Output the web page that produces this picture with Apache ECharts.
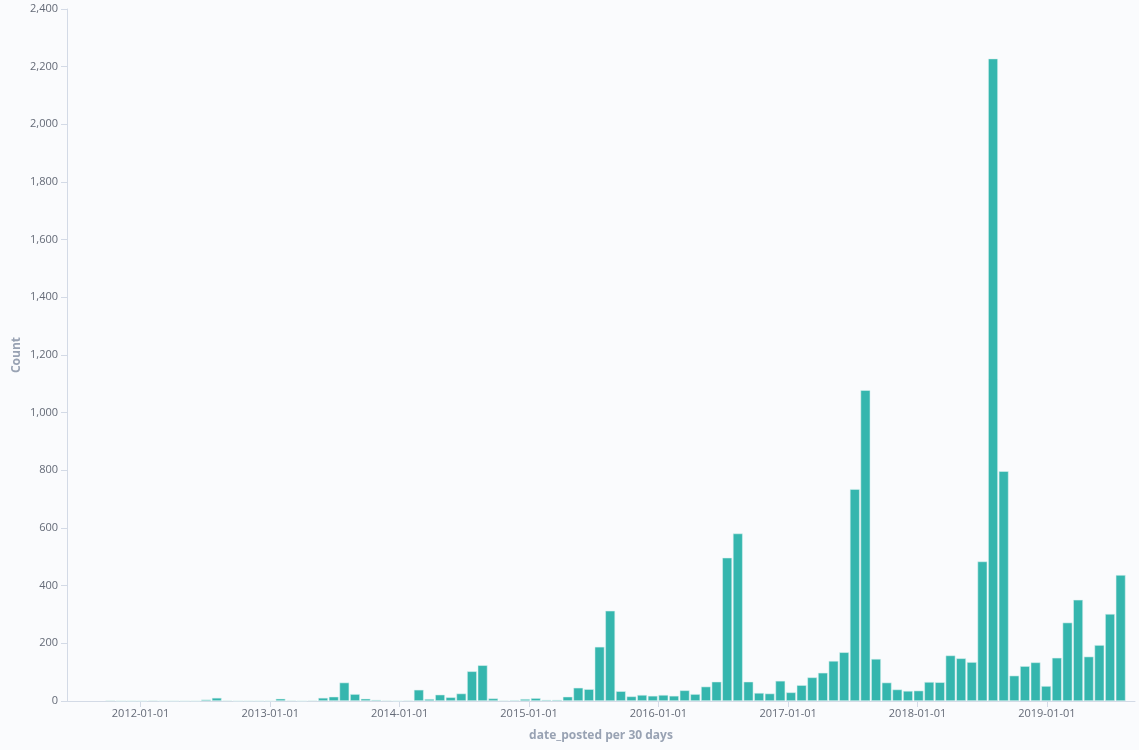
<!DOCTYPE html>
<html>
<head>
<meta charset="utf-8">
<script src="https://cdn.jsdelivr.net/npm/echarts@6/dist/echarts.min.js"></script>
<style>
  html, body { margin: 0; padding: 0; background: #fafbfd; }
  #chart { width: 1139px; height: 750px; }
</style>
</head>
<body>
<div id="chart"></div>
<script>
// 30-day buckets (Kibana date_histogram, buckets aligned on the epoch)
const firstBucket = '2011-09-23';
const bucketDays = 30;

// document count per bucket
const counts = [
  2, 0, 0, 0, 2, 0, 0, 0, 0, 5,
  11, 2, 0, 0, 0, 0, 8, 2, 0, 2,
  11, 15, 64, 24, 8, 4, 2, 0, 2, 39,
  7, 22, 13, 26, 103, 124, 9, 2, 3, 7,
  10, 4, 4, 15, 46, 41, 188, 313, 34, 16,
  21, 18, 21, 18, 37, 24, 50, 67, 497, 581,
  67, 28, 26, 70, 30, 55, 82, 98, 139, 169,
  735, 1078, 146, 64, 40, 35, 36, 66, 65, 158,
  148, 135, 484, 2228, 797, 88, 121, 134, 52, 150,
  272, 351, 154, 194, 302, 437
];

// visible time range of the x axis
const rangeStart = '2011-06-07T14:00:00Z';
const rangeEnd = '2019-09-06T12:00:00Z';

const yTicks = [0, 200, 400, 600, 800, 1000, 1200, 1400, 1600, 1800, 2000, 2200, 2400];

const DAY = 86400000;
const t0 = Date.parse(firstBucket + 'T00:00:00Z');
// bar sits in the middle of its bucket
const seriesData = counts.map((c, i) => [t0 + (i * bucketDays + bucketDays / 2) * DAY, c]);

// echarts widens a time axis by the bar width, so pull min/max in by that much
const plotWidth = 1068;
const barPx = 9.8;
const tMin = Date.parse(rangeStart);
const tMax = Date.parse(rangeEnd);
const shrink = (tMax - tMin) * (barPx / 2) / plotWidth;

function pad(n) { return n < 10 ? '0' + n : '' + n; }

const chart = echarts.init(document.getElementById('chart'));
const option = {
  backgroundColor: '#fafbfd',
  useUTC: true,
  animation: false,
  textStyle: { fontFamily: 'Open Sans' },
  grid: { left: 67, right: 4, top: 9, bottom: 49 },
  xAxis: {
    type: 'time',
    min: tMin + shrink,
    max: tMax - shrink,
    splitNumber: 8,
    minInterval: 365 * DAY,
    name: 'date_posted per 30 days',
    nameLocation: 'middle',
    nameGap: 29,
    nameTextStyle: { color: '#98a2b3', fontSize: 12, fontWeight: 'bold' },
    axisLine: { lineStyle: { color: '#d3dae6' } },
    axisTick: { show: true, length: 6, lineStyle: { color: '#d3dae6' } },
    splitLine: { show: false },
    axisLabel: {
      color: '#646a77',
      fontSize: 11,
      margin: 7,
      showMinLabel: false,
      showMaxLabel: false,
      formatter: function (v) {
        const d = new Date(v);
        return d.getUTCFullYear() + '-' + pad(d.getUTCMonth() + 1) + '-' + pad(d.getUTCDate());
      }
    }
  },
  yAxis: {
    type: 'value',
    min: yTicks[0],
    max: yTicks[yTicks.length - 1],
    interval: yTicks[1] - yTicks[0],
    name: 'Count',
    nameLocation: 'middle',
    nameGap: 44,
    nameMoveOverlap: false,
    nameTextStyle: { color: '#98a2b3', fontSize: 12, fontWeight: 'bold' },
    axisLine: { show: true, lineStyle: { color: '#d3dae6' } },
    axisTick: { show: true, length: 6, lineStyle: { color: '#d3dae6' } },
    splitLine: { show: false },
    axisLabel: {
      color: '#646a77',
      fontSize: 11,
      margin: 9,
      formatter: function (v) { return v.toLocaleString('en-US'); }
    }
  },
  series: [{
    name: 'Count',
    type: 'bar',
    barWidth: barPx,
    data: seriesData,
    itemStyle: {
      color: '#35b6ae',
      borderColor: 'rgba(220,242,240,0.9)',
      borderWidth: 0.6
    }
  }]
};
chart.setOption(option);
</script>
</body>
</html>
